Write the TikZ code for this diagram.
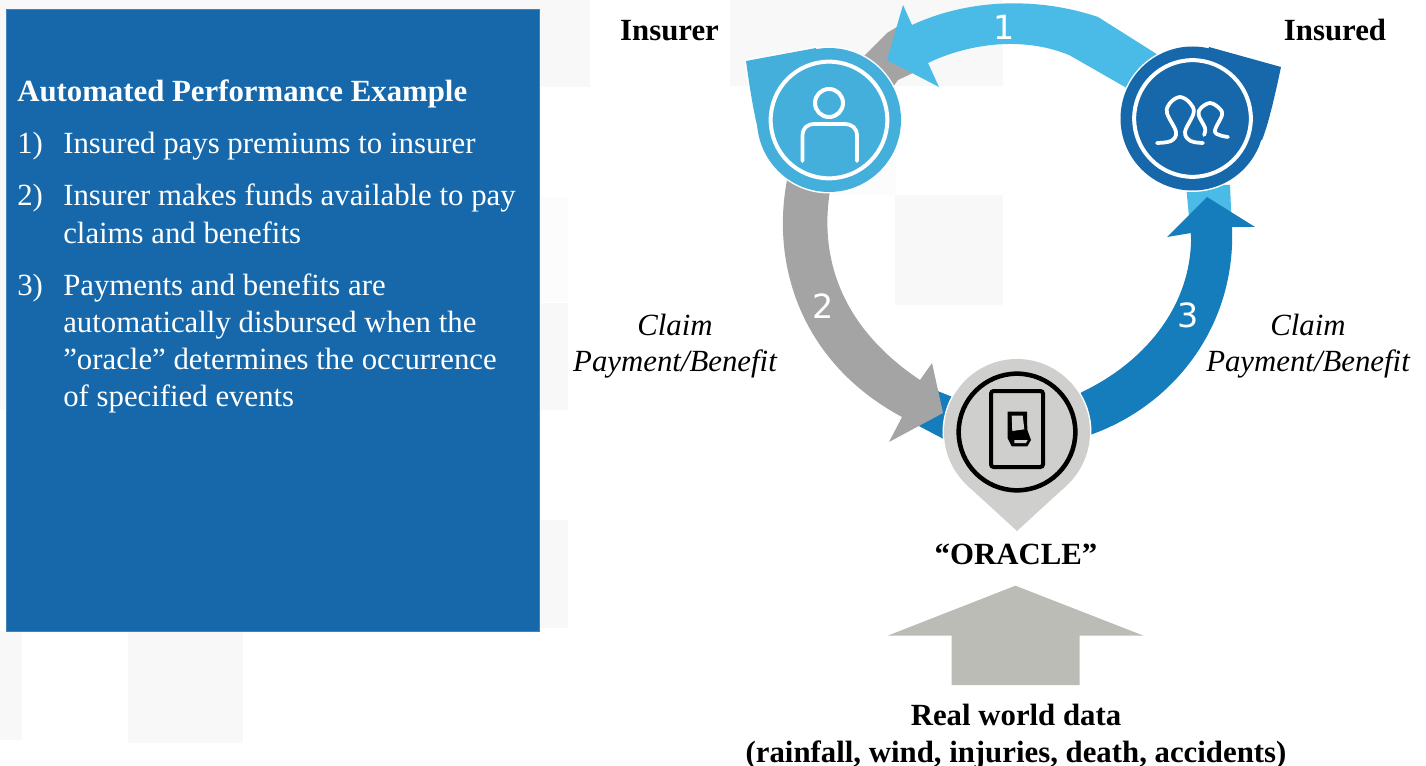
\documentclass[tikz,border=0pt]{standalone}
\usepackage{fontspec}
\setmainfont{Liberation Serif}
\newfontfamily\numfont{DejaVu Sans}
\definecolor{panelblue}{HTML}{1668AA}
\definecolor{paneledge}{HTML}{3F84BC}
\definecolor{lightarrow}{HTML}{4ABAE6}
\definecolor{grayarrow}{HTML}{A5A4A5}
\definecolor{bluearrow}{HTML}{157DBB}
\definecolor{badgelight}{HTML}{45AFDC}
\definecolor{badgegray}{HTML}{CFCFCD}
\definecolor{bigarrow}{HTML}{BBBCB6}
\definecolor{bgsq}{HTML}{F8F8F8}
\definecolor{bgsqb}{HTML}{FCFCFC}
\tikzset{
  bodytext/.style={anchor=base west,inner sep=0pt,text=white,font=\fontsize{23.1}{26}\selectfont},
  titletext/.style={anchor=base west,inner sep=0pt,text=white,font=\fontsize{23.1}{26}\selectfont\bfseries},
  boldlabel/.style={anchor=base,inner sep=0pt,text=black,font=\fontsize{23.1}{26}\selectfont\bfseries},
  itlabel/.style={anchor=base,inner sep=0pt,text=black,font=\fontsize{23.1}{26}\selectfont\itshape},
  numlabel/.style={anchor=center,inner sep=0pt,text=white,font=\fontsize{25}{28}\selectfont\numfont},
  iconline/.style={draw=white,line width=3pt,line cap=round,line join=round},
  halo/.style={draw=white,line width=2.2pt},
}
\begin{document}
\begin{tikzpicture}[x=0.75pt,y=-0.75pt]
\useasboundingbox (0,0) rectangle (1426,766);
% background squares
\fill[bgsq] (0,0) rectangle (590,87);
\fill[bgsq] (730,0) rectangle (1003,86);
\fill[bgsqb] (787,87) rectangle (896,195);
\fill[bgsq] (895,195) rectangle (1003,305);
\fill[bgsqb] (540,197) rectangle (568,302);
\fill[bgsq] (540,303) rectangle (568,410);
\fill[bgsq] (540,520) rectangle (568,628);
\fill[bgsq] (0,631) rectangle (22,740);
\fill[bgsq] (128,631) rectangle (243,743);
\fill[bgsq] (0,87) rectangle (6,410);
% panel
\draw[fill=panelblue,draw=paneledge,line width=0.4pt] (6,9) rectangle (539.5,631);
\node[titletext] (title) at (17,102) {Automated Performance Example};
\node[bodytext] (n1) at (17,154) {1)};
\node[bodytext] (t1) at (63,154) {Insured pays premiums to insurer};
\node[bodytext] (n2) at (17,206) {2)};
\node[bodytext] (t2a) at (63,206) {Insurer makes funds available to pay};
\node[bodytext] (t2b) at (63,244) {claims and benefits};
\node[bodytext] (n3) at (17,296) {3)};
\node[bodytext] (t3a) at (63,296) {Payments and benefits are};
\node[bodytext] (t3b) at (63,332.5) {automatically disbursed when the};
\node[bodytext] (t3c) at (63,369.5) {”oracle” determines the occurrence};
\node[bodytext] (t3d) at (63,406.5) {of specified events};
% stubs behind arrow heads
\fill[grayarrow] (850,70) -- (887,33) -- (905,22) -- (915,72) -- (898,80) -- (880,105) -- cycle;
\fill[bluearrow] (935,390) -- (955,398) -- (955,445) -- (915,424) -- cycle;
\fill[lightarrow] (1186,185) -- (1230,185) -- (1232,232) -- (1191,238) -- cycle;
% arrow 1
\fill[lightarrow] (1165,60) -- (1155,53) -- (1098,17) .. controls (1045,-1) and (975,-4) .. (912,25)
  -- (903,5) -- (887,60) -- (939,87) -- (928,63)
  .. controls (965,45) and (1020,35) .. (1069,55) -- (1125,87) -- (1135,95) -- cycle;
% arrow 2
\fill[grayarrow] (787,180) .. controls (770,270) and (805,365) .. (902,417)
  -- (889,442) -- (943,413) -- (932,363) -- (920,380)
  .. controls (845,330) and (815,260) .. (832,180) -- cycle;
% arrow 3
\fill[bluearrow] (1070,440) -- (1090,435) .. controls (1175,405) and (1236,325) .. (1232,227)
  -- (1255,227) -- (1207,197) -- (1167,237) -- (1191,233)
  .. controls (1193,305) and (1145,362) .. (1082,392) -- (1070,400) -- cycle;
\node[numlabel] (num1) at (1004,27) {1};
\node[numlabel] (num2) at (823,306) {2};
\node[numlabel] (num3) at (1188,315) {3};
% insurer badge
\def\insurercirc{(829,120) circle[radius=72]}
\def\insurertail{(746,61) -- (816,48) -- (829,120) -- (759,133) .. controls (754,115) and (750,90) .. (746,61) -- cycle}
\draw[halo] \insurercirc; \draw[halo] \insurertail;
\fill[badgelight] \insurercirc; \fill[badgelight] \insurertail;
\node[circle,draw=white,line width=3pt,minimum size=87.5pt,inner sep=0pt] (insurer) at (829,120) {};
\draw[iconline] (829,103) circle[radius=14];
\draw[iconline,line width=2.8pt] (802.5,161) -- (802.5,136) .. controls (802.5,128) and (807,124) .. (815,124) -- (844,124) .. controls (852,124) and (857,128) .. (857,136) -- (857,161);
% insured badge
\def\insuredcirc{(1192.5,118.5) circle[radius=72]}
\def\insuredtail{(1281,67) -- (1209,47) -- (1192.5,118.5) -- (1262,140) .. controls (1268,125) and (1274,100) .. (1281,67) -- cycle}
\draw[halo] \insuredcirc; \draw[halo] \insuredtail;
\fill[panelblue] \insuredcirc; \fill[panelblue] \insuredtail;
\node[circle,draw=white,line width=3pt,minimum size=87.5pt,inner sep=0pt] (insured) at (1192.5,118.5) {};
\draw[iconline,line width=2.8pt] plot[smooth,tension=0.6] coordinates {(1157,143) (1171,141) (1176,132) (1167,113) (1170,103) (1180,97) (1190,103) (1193.6,113) (1185,132) (1190.7,141) (1203,143)};
\draw[iconline,line width=2.8pt] plot[smooth,tension=0.6] coordinates {(1204,135) (1205,128) (1198.6,115) (1201,108) (1210,103) (1219,108) (1222,115) (1215,132) (1228,137)};
% oracle badge
\def\oraclecirc{(1017,432) circle[radius=73]}
\def\oracletail{(1017,531) -- (967.7,485.8) -- (1066.3,485.8) -- cycle}
\draw[halo] \oraclecirc;
\fill[badgegray] \oraclecirc; \fill[badgegray] \oracletail;
\node[circle,draw=black,line width=3.4pt,minimum size=87.5pt,inner sep=0pt] (oracle) at (1017,432) {};
\draw[black,line width=3pt,rounded corners=2pt] (991,391) rectangle (1043,467);
\fill[black] (1007.7,411.7) -- (1027,411.7) -- (1027.3,430) -- (1031,440) -- (1027.3,446.3) -- (1011.7,446.3) -- (1007.7,438.3) -- cycle;
\fill[badgegray] (1011.7,415.7) -- (1022.7,415.7) -- (1024.3,429.3) -- (1012.3,431) -- cycle;
\fill[badgegray] (1014.3,440) -- (1027.7,440) -- (1026,443) -- (1014.3,443) -- cycle;
% big arrow
\fill[bigarrow] (1015.4,585.7) -- (1143.6,635.7) -- (1079.7,635.7) -- (1079.7,685) -- (951.5,685) -- (951.5,635.7) -- (887.6,635.7) -- cycle;
% labels
\node[boldlabel] (linsurer) at (669.5,41) {Insurer};
\node[boldlabel] (linsured) at (1335,41) {Insured};
\node[itlabel] (c1) at (675,335) {Claim};
\node[itlabel] (p1) at (675,371) {Payment/Benefit};
\node[itlabel] (c2) at (1308,335) {Claim};
\node[itlabel] (p2) at (1308,371) {Payment/Benefit};
\node[boldlabel] (lora) at (1016,564) {“ORACLE”};
\node[boldlabel] (lreal) at (1016,725) {Real world data};
\node[boldlabel] (lparen) at (1016,762) {(rainfall, wind, injuries, death, accidents)};
\end{tikzpicture}
\end{document}
